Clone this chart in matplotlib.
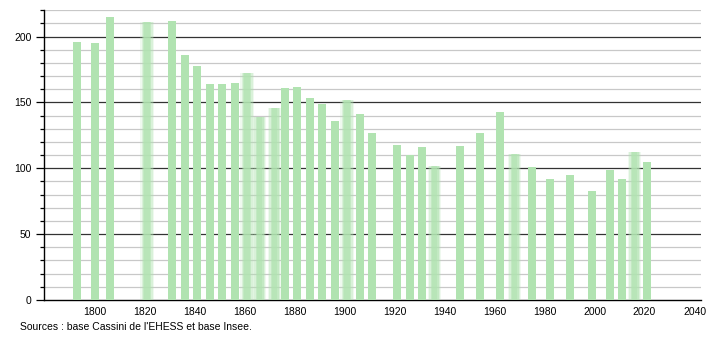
import numpy as np
import matplotlib
matplotlib.use('Agg')
import matplotlib.pyplot as plt

years = [1793, 1800, 1806, 1821, 1831, 1836, 1841, 1846, 1851, 1856,
         1861, 1866, 1872, 1876, 1881, 1886, 1891, 1896, 1901, 1906,
         1911, 1921, 1926, 1931, 1936, 1946, 1954, 1962, 1968, 1975,
         1982, 1990, 1999, 2006, 2011, 2016, 2021]
population = [196, 195, 215, 211, 212, 186, 178, 164, 164, 165,
              172, 139, 146, 161, 162, 153, 149, 136, 152, 141,
              127, 118, 110, 116, 102, 117, 127, 143, 111, 101,
              92, 95, 83, 99, 92, 112, 105]
# bars that look smudged in the original picture
fuzzy_years = [1821, 1861, 1866, 1872, 1901, 1936, 1968, 2016]

plt.rcParams['font.family'] = ['Liberation Sans', 'DejaVu Sans']

fig = plt.figure(figsize=(7.1, 3.4), dpi=100)
ax = fig.add_axes([0.062, 0.118, 0.925, 0.852])

green = '#b1e3b1'
w = 3.2
for yr, p in zip(years, population):
    if yr in fuzzy_years:
        for k, a in [(1.7, 0.2), (1.35, 0.35), (1.0, 0.55), (0.7, 0.6)]:
            ax.bar(yr, p, width=w * k, color=green, alpha=a, lw=0, zorder=3)
    else:
        ax.bar(yr, p, width=w, color=green, lw=0, zorder=3)

ax.set_xlim(1779.7, 2042.5)
ax.set_ylim(0, 220)

for v in range(10, 221, 10):
    if v % 50 == 0:
        ax.axhline(v, color='#333333', lw=0.9, zorder=1)
    else:
        ax.axhline(v, color='#c8c8c8', lw=0.9, zorder=1)

ax.set_yticks([0, 50, 100, 150, 200])
ax.set_yticks(np.arange(0, 221, 10), minor=True)
ax.set_xticks(np.arange(1800, 2041, 20))
ax.tick_params(axis='y', which='major', length=6, width=0.9, labelsize=7.5, pad=3)
ax.tick_params(axis='y', which='minor', length=3, width=0.9)
ax.tick_params(axis='x', length=0, labelsize=7.5, pad=5)

for s in ['top', 'right']:
    ax.spines[s].set_visible(False)
ax.spines['left'].set_linewidth(1)
ax.spines['bottom'].set_linewidth(1)

fig.text(0.028, 0.038, "Sources : base Cassini de l'EHESS et base Insee.",
         fontsize=7.5, va='center')

fig.savefig('out.png', dpi=100)
